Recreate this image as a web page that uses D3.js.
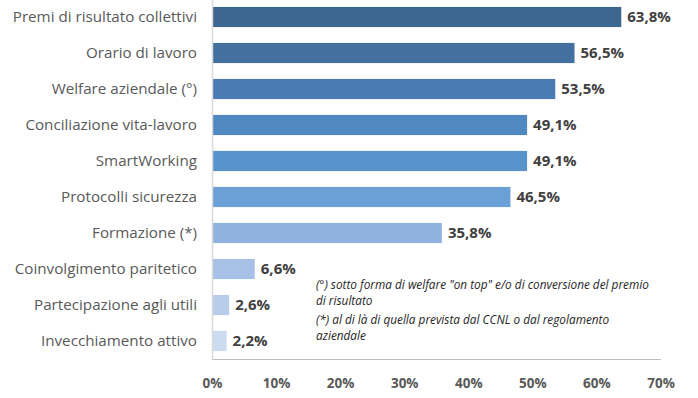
<!DOCTYPE html>
<html>
<head>
<meta charset="utf-8">
<script src="https://cdn.jsdelivr.net/npm/d3@7"></script>
<style>
  body { margin: 0; background: #fff; }
  svg { display: block; font-family: "Open Sans", sans-serif; }
</style>
</head>
<body>
<div id="viz"></div>
<script>
// categories from top to bottom
const categories = [
  'Premi di risultato collettivi',
  'Orario di lavoro',
  'Welfare aziendale (°)',
  'Conciliazione vita-lavoro',
  'SmartWorking',
  'Protocolli sicurezza',
  'Formazione (*)',
  'Coinvolgimento paritetico',
  'Partecipazione agli utili',
  'Invecchiamento attivo'
];
const values = [63.8, 56.5, 53.5, 49.1, 49.1, 46.5, 35.8, 6.6, 2.6, 2.2];
const colors = ['#3d6791', '#43709f', '#4a7cb3', '#5088c2', '#5893cd', '#6aa0d6', '#8fb2de', '#a6c1e5', '#b8cdea', '#ccdbef'];
const ticks = [0, 10, 20, 30, 40, 50, 60, 70];
const notes = [
  ['(°) sotto forma di welfare "on top" e/o di conversione del premio', 'di risultato'],
  ['(*) al di là di quella prevista dal CCNL o dal regolamento', 'aziendale']
];

const width = 698, height = 398;
const x0 = 212.5;

const svg = d3.select('#viz')
  .append('svg')
  .attr('width', width)
  .attr('height', height);

const x = d3.scaleLinear()
  .domain([0, 70])
  .range([x0, 661]);

const y = d3.scaleBand()
  .domain(categories)
  .range([-1, 359])
  .paddingInner(0.44)
  .paddingOuter(0.22);

// bars
svg.selectAll('rect.bar')
  .data(values)
  .enter()
  .append('rect')
  .attr('class', 'bar')
  .attr('x', x(0))
  .attr('y', (d, i) => y(categories[i]))
  .attr('width', d => x(d) - x(0))
  .attr('height', y.bandwidth())
  .attr('fill', (d, i) => colors[i]);

// vertical axis line
svg.append('line')
  .attr('x1', x0).attr('x2', x0)
  .attr('y1', 0).attr('y2', 359.5)
  .attr('stroke', '#d9d9d9')
  .attr('stroke-width', 1.5);

// bottom axis line
svg.append('line')
  .attr('x1', x0).attr('x2', x(70))
  .attr('y1', 359.5).attr('y2', 359.5)
  .attr('stroke', '#bfbfbf')
  .attr('stroke-width', 1);

// category labels
svg.selectAll('text.cat')
  .data(categories)
  .enter()
  .append('text')
  .attr('class', 'cat')
  .attr('x', 197)
  .attr('y', d => y(d) + y.bandwidth() / 2)
  .attr('dy', '0.35em')
  .attr('text-anchor', 'end')
  .attr('font-size', 15.2)
  .attr('fill', '#595959')
  .text(d => d);

// value labels
svg.selectAll('text.val')
  .data(values)
  .enter()
  .append('text')
  .attr('class', 'val')
  .attr('x', d => x(d) + 6)
  .attr('y', (d, i) => y(categories[i]) + y.bandwidth() / 2)
  .attr('dy', '0.36em')
  .attr('font-size', 15)
  .attr('font-weight', 'bold')
  .attr('fill', '#404040')
  .text(d => d.toFixed(1).replace('.', ',') + '%');

// x tick labels
svg.selectAll('text.tick')
  .data(ticks)
  .enter()
  .append('text')
  .attr('class', 'tick')
  .attr('x', d => x(d))
  .attr('y', 383)
  .attr('dy', '0.35em')
  .attr('text-anchor', 'middle')
  .attr('font-size', 13.5)
  .attr('font-weight', 'bold')
  .attr('fill', '#595959')
  .text(d => d + '%');

// footnotes
const noteTops = [285, 320];
notes.forEach((lines, k) => {
  lines.forEach((t, j) => {
    svg.append('text')
      .attr('x', 316)
      .attr('y', noteTops[k] + j * 16)
      .attr('dy', '0.35em')
      .attr('font-size', 11.8)
      .attr('font-style', 'italic')
      .attr('fill', '#262626')
      .text(t);
  });
});
</script>
</body>
</html>
